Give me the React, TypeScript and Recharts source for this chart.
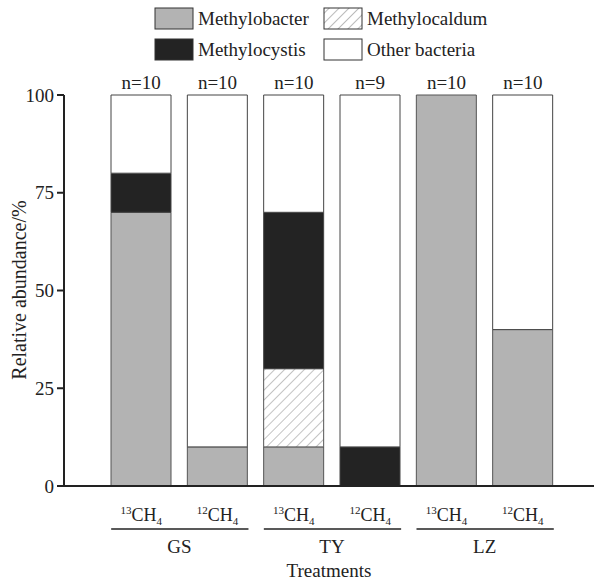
import React from 'react';
import { BarChart, Bar, XAxis, YAxis, Legend } from 'recharts';

const isotopes = ['13', '12', '13', '12', '13', '12'];
const sites = ['GS', 'GS', 'TY', 'TY', 'LZ', 'LZ'];
const sampleN = [10, 10, 10, 9, 10, 10];
const methylobacter = [70, 10, 10, 0, 100, 40];
const methylocaldum = [0, 0, 20, 0, 0, 0];
const methylocystis = [10, 0, 40, 10, 0, 0];
const otherBacteria = [20, 90, 30, 90, 0, 60];
const yTicks = [0, 25, 50, 75, 100];

const data = isotopes.map((iso, i) => ({
  name: sites[i] + '-' + iso,
  iso,
  site: sites[i],
  n: 'n=' + sampleN[i],
  methylobacter: methylobacter[i],
  methylocaldum: methylocaldum[i],
  methylocystis: methylocystis[i],
  other: otherBacteria[i],
}));

const FONT = 'Liberation Serif, serif';
const INK = '#222';
const BAND = 76.3;
const BAR = 60;
const txt = { fontFamily: FONT };

const BottomTick = (props: any) => {
  const { x, y, index } = props;
  const d = data[index];
  return (
    <g fill={INK}>
      <text x={x} y={y + 27} textAnchor="middle" fontSize={18} fill={INK} style={txt}>
        <tspan fontSize={11} dy={-7}>{d.iso}</tspan>
        <tspan dy={7}>CH</tspan>
        <tspan fontSize={11} dy={4}>4</tspan>
      </text>
      {index % 2 === 0 && (
        <>
          <line x1={x - BAR / 2} x2={x + BAND + BAR / 2 + 1} y1={y + 35} y2={y + 35} stroke={INK} strokeWidth={1.5} />
          <text x={x + BAND / 2} y={y + 59} textAnchor="middle" fontSize={19} fill={INK} style={txt}>{d.site}</text>
        </>
      )}
    </g>
  );
};

const TopTick = (props: any) => {
  const { x, y, payload } = props;
  return (
    <text x={x} y={y + 2} textAnchor="middle" fontSize={19} fill={INK} style={txt}>
      {payload.value}
    </text>
  );
};

const YLabel = () => (
  <text x={19} y={290} transform="rotate(-90 19 290)" textAnchor="middle" dominantBaseline="central" fontSize={20} fill={INK} style={txt}>
    Relative abundance/%
  </text>
);

const legendItems = [
  { label: 'Methylobacter', fill: '#b3b3b3', x: 155, y: 8 },
  { label: 'Methylocaldum', fill: 'url(#hatchL)', x: 324, y: 8 },
  { label: 'Methylocystis', fill: '#232323', x: 155, y: 39 },
  { label: 'Other bacteria', fill: '#fff', x: 324, y: 39 },
];

const LegendBox = () => (
  <svg width={595} height={62} style={{ display: 'block' }}>
    <defs>
      <pattern id="hatchL" width={7} height={7} patternUnits="userSpaceOnUse" patternTransform="rotate(45)">
        <rect width={7} height={7} fill="#fff" />
        <line x1={0} y1={0} x2={0} y2={7} stroke="#777" strokeWidth={1} />
      </pattern>
    </defs>
    {legendItems.map((it) => (
      <g key={it.label}>
        <rect x={it.x} y={it.y} width={38} height={21} fill={it.fill} stroke="#333" strokeWidth={1} />
        <text x={it.x + 43} y={it.y + 17} fontSize={19} fill={INK} style={txt}>{it.label}</text>
      </g>
    ))}
  </svg>
);

export default function App() {
  return (
    <div style={{ position: 'absolute', left: 0, top: 0, width: 595, height: 581, background: '#fff', fontFamily: FONT }}>
      <BarChart width={595} height={581} data={data} margin={{ top: 3, right: 1, bottom: 0, left: 0 }} barSize={BAR}>
        <defs>
          <pattern id="hatch" width={7} height={7} patternUnits="userSpaceOnUse" patternTransform="rotate(45)">
            <rect width={7} height={7} fill="#fff" />
            <line x1={0} y1={0} x2={0} y2={7} stroke="#888" strokeWidth={1} />
          </pattern>
        </defs>
        <Legend verticalAlign="top" height={62} content={() => <LegendBox />} wrapperStyle={{ top: 0, left: 0, width: 595 }} />
        <XAxis
          dataKey="name"
          xAxisId="bottom"
          height={95}
          padding={{ left: 39, right: 33 }}
          tickLine={false}
          axisLine={{ stroke: INK, strokeWidth: 2 }}
          tick={<BottomTick />}
          interval={0}
          label={{ value: 'Treatments', position: 'insideBottom', offset: 4, fontSize: 19, fill: INK, style: txt }}
        />
        <XAxis
          dataKey="n"
          xAxisId="top"
          orientation="top"
          height={30}
          padding={{ left: 39, right: 33 }}
          tickLine={false}
          axisLine={false}
          tick={<TopTick />}
          interval={0}
        />
        <YAxis
          width={64}
          domain={[0, 100]}
          ticks={yTicks}
          tickSize={7}
          tickMargin={3}
          tickLine={{ stroke: INK, strokeWidth: 2 }}
          axisLine={{ stroke: INK, strokeWidth: 2 }}
          tick={{ fontSize: 19, fill: INK, style: txt }}
          label={<YLabel />}
        />
        <Bar xAxisId="bottom" dataKey="methylobacter" stackId="a" fill="#b3b3b3" stroke="#555" strokeWidth={1} isAnimationActive={false} />
        <Bar xAxisId="bottom" dataKey="methylocaldum" stackId="a" fill="url(#hatch)" stroke="#555" strokeWidth={1} isAnimationActive={false} />
        <Bar xAxisId="bottom" dataKey="methylocystis" stackId="a" fill="#232323" stroke="#444" strokeWidth={1} isAnimationActive={false} />
        <Bar xAxisId="bottom" dataKey="other" stackId="a" fill="#fff" stroke="#444" strokeWidth={1} isAnimationActive={false} />
      </BarChart>
    </div>
  );
}
